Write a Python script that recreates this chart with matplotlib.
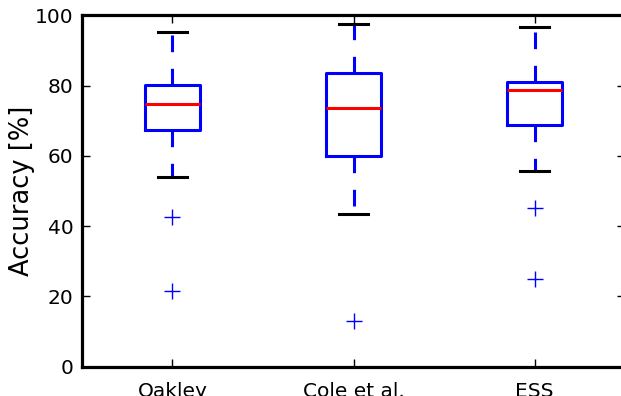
import matplotlib
matplotlib.use('Agg')
import matplotlib.pyplot as plt

# values
methods = ['Oakley', 'Cole et al.', 'ESS']
medians = [74.8, 73.6, 78.7]
q1 = [67.3, 60.0, 68.7]
q3 = [80.1, 83.7, 81.0]
whisker_low = [54.0, 43.6, 55.6]
whisker_high = [95.3, 97.6, 96.6]
outliers = [[42.7, 21.5], [13.0], [45.1, 24.9]]

plt.rcParams['font.family'] = 'DejaVu Sans'

stats = []
for i in range(len(methods)):
    stats.append({
        'label': methods[i],
        'med': medians[i],
        'q1': q1[i],
        'q3': q3[i],
        'whislo': whisker_low[i],
        'whishi': whisker_high[i],
        'fliers': outliers[i],
    })

fig = plt.figure(figsize=(6.21, 3.96), dpi=100)
ax = fig.add_axes([0.132, 0.074, 0.8745, 0.887])

lw = 2.2
# dashes scale with the line width, so divide it out (~12 pt on / 12 pt off)
ax.bxp(stats, positions=[1, 2, 3], widths=0.3, capwidths=0.165,
       boxprops=dict(color='blue', linewidth=lw),
       medianprops=dict(color='red', linewidth=lw),
       whiskerprops=dict(color='blue', linewidth=lw,
                         linestyle=(0, (12 / lw, 12 / lw))),
       capprops=dict(color='black', linewidth=lw),
       flierprops=dict(marker='+', markersize=12, markeredgecolor='blue',
                       markeredgewidth=1.0, linestyle='none'))

ax.set_xlim(0.5, 3.5)
ax.set_ylim(0, 100)
ax.set_yticks([0, 20, 40, 60, 80, 100])
ax.set_ylabel('Accuracy [%]', fontsize=18.5, labelpad=0)

ax.tick_params(direction='in', length=6, width=1, labelsize=14.5,
               top=True, right=True)
ax.tick_params(axis='y', pad=6)
ax.tick_params(axis='x', pad=11)
for s in ax.spines.values():
    s.set_linewidth(2.3)

fig.savefig('out.png', dpi=100)
